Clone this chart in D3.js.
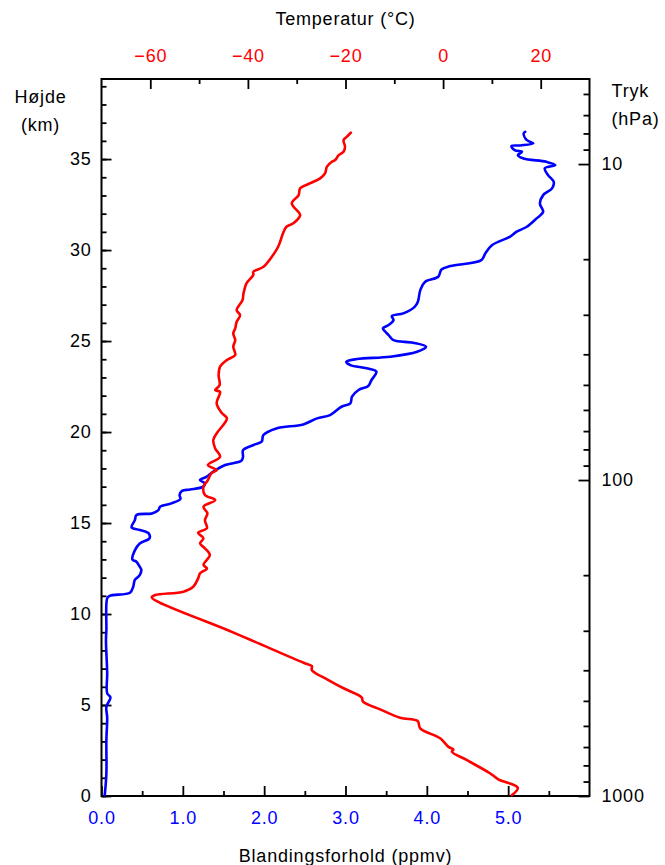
<!DOCTYPE html>
<html>
<head>
<meta charset="utf-8">
<script src="https://cdn.jsdelivr.net/npm/d3@7/dist/d3.min.js"></script>
<style>
  body { margin: 0; background: #fff; }
  text { font-family: "Liberation Sans", Arial, sans-serif; letter-spacing: 0.8px; }
</style>
</head>
<body>
<div id="chart"></div>
<script>
// temperature profile (altitude km, degC)
var tempAlt = [0.05, 0.46, 0.92, 1.25, 1.98, 2.43, 2.55, 2.7, 3.17, 3.72, 4.12, 4.3, 4.76, 5.18, 5.42, 5.92,
  6.37, 6.92, 7.14, 7.32, 8.57, 9.12, 10.92, 11.04, 11.23, 11.5, 11.96, 12.24, 12.5, 12.7, 13.24, 13.61,
  13.88, 14.16, 14.47, 14.71, 15.16, 15.53, 15.9, 16.26, 16.54, 17.0, 17.36, 17.73, 17.91, 18.19, 18.64,
  19.1, 19.56, 19.93, 20.75, 21.03, 21.58, 22.21, 22.3, 22.58, 23.13, 23.59, 23.96, 24.23, 24.69, 25.05,
  25.42, 25.7, 26.06, 26.43, 26.7, 27.25, 27.62, 28.17, 28.63, 28.8, 29.08, 29.63, 30.18, 30.92, 31.28,
  31.47, 31.92, 32.56, 33.02, 33.39, 33.66, 33.94, 34.21, 34.58, 34.85, 34.95, 35.22, 35.4, 35.68, 36.04,
  36.23, 36.45];
var tempVal = [14.1, 15.3, 11.3, 9.6, 4.8, 1.8, 2.1, 1.1, -0.6, -4.7, -5.2, -8.8, -12.9, -16.4, -16.7, -20.4,
  -23.5, -26.9, -26.9, -28.6, -39.4, -44.2, -59.7, -59.0, -53.2, -51.2, -50.2, -49.8, -48.4, -49.1, -47.8, -48.8,
  -49.8, -49.1, -50.2, -48.4, -48.8, -48.3, -49.1, -46.7, -48.8, -49.1, -48.2, -47.5, -46.4, -48.2, -45.7,
  -46.7, -47.1, -46.4, -44.3, -45.3, -46.4, -45.7, -46.7, -45.8, -46.0, -45.7, -44.3, -42.6, -43.0, -42.6,
  -43.0, -42.6, -42.3, -41.6, -42.3, -41.1, -40.9, -40.3, -38.9, -38.9, -36.8, -35.1, -33.8, -32.8, -32.1,
  -30.7, -29.3, -31.0, -29.6, -29.3, -27.3, -25.2, -24.2, -23.8, -22.8, -22.1, -21.4, -20.4, -20.1, -20.4,
  -19.7, -18.9];

// water vapour mixing ratio profile (altitude km, ppmv)
var vapAlt = [0.05, 1.25, 3.08, 4.3, 4.9, 5.42, 5.64, 6.74, 8.57, 9.12, 10.86, 11.0, 11.17, 11.5, 11.87, 12.14,
  12.42, 12.6, 12.87, 13.0, 13.5, 13.88, 14.16, 14.43, 14.62, 14.76, 15.16, 15.44, 15.53, 15.71, 15.9, 16.08,
  16.32, 16.54, 16.77, 16.84, 17.0, 17.18, 17.36, 17.54, 17.82, 18.19, 18.42, 18.64, 19.0, 19.29, 19.47,
  19.84, 20.2, 20.42, 20.75, 20.93, 21.39, 21.58, 21.94, 22.31, 22.53, 22.86, 23.31, 23.5, 23.68, 23.86,
  24.01, 24.14, 24.41, 24.69, 24.91, 25.05, 25.33, 25.51, 25.7, 25.88, 26.15, 26.37, 26.52, 26.88, 27.16,
  27.8, 28.26, 28.53, 28.93, 29.12, 29.45, 29.82, 30.27, 30.73, 31.0, 31.28, 31.74, 32.1, 32.56, 33.02,
  33.39, 33.75, 34.12, 34.49, 34.67, 34.85, 35.03, 35.22, 35.4, 35.49, 35.71, 35.75, 35.86, 36.04, 36.4, 36.5];
var vapVal = [0.04, 0.06, 0.06, 0.07, 0.06, 0.11, 0.07, 0.07, 0.055, 0.06, 0.07, 0.1, 0.35, 0.39, 0.41, 0.47,
  0.49, 0.47, 0.43, 0.38, 0.41, 0.47, 0.59, 0.58, 0.47, 0.37, 0.41, 0.43, 0.62, 0.70, 0.72, 0.86,
  0.97, 0.96, 0.99, 1.09, 1.25, 1.27, 1.21, 1.29, 1.37, 1.52, 1.72, 1.74, 1.74, 1.87, 1.97,
  1.99, 2.15, 2.48, 2.65, 2.81, 2.95, 3.06, 3.08, 3.16, 3.28, 3.32, 3.38, 3.26, 3.06, 3.01,
  3.14, 3.55, 3.88, 3.99, 3.83, 3.59, 3.53, 3.49, 3.46, 3.53, 3.59, 3.57, 3.71, 3.85, 3.89,
  3.92, 3.98, 4.14, 4.18, 4.29, 4.67, 4.72, 4.80, 5.02, 5.10, 5.23, 5.35, 5.43, 5.39, 5.43,
  5.54, 5.56, 5.49, 5.45, 5.58, 5.47, 5.19, 5.12, 5.17, 5.08, 5.04, 5.15, 5.31, 5.23, 5.19, 5.21];

// axes
var altDomain = [0, 39.4];
var tempDomain = [-70, 30];
var mixDomain = [0, 6];
var pressDomain = [1000, 5.38];
var tempLabels = [-60, -40, -20, 0, 20];
var mixLabels = [0, 1, 2, 3, 4, 5];
var altLabels = [0, 5, 10, 15, 20, 25, 30, 35];
var pressLabels = [10, 100, 1000];
var pressMinor = [6, 7, 8, 9, 20, 30, 40, 50, 60, 70, 80, 90, 200, 300, 400, 500, 600, 700, 800, 900];

var margin = { top: 79, left: 101.5, right: 75.5, bottom: 69 },
  width = 665 - margin.left - margin.right,
  height = 865 - margin.top - margin.bottom;

var svg = d3.select("#chart")
  .append("svg")
  .attr("width", 665)
  .attr("height", 865)
  .append("g")
  .attr("transform", "translate(" + margin.left + "," + margin.top + ")");

var yAlt = d3.scaleLinear().domain(altDomain).range([height, 0]);
var xTemp = d3.scaleLinear().domain(tempDomain).range([0, width]);
var xMix = d3.scaleLinear().domain(mixDomain).range([0, width]);
var yPress = d3.scaleLog().domain(pressDomain).range([height, 0]);

var fontSize = "18px";

function styleAxis(g, color) {
  g.select(".domain").remove();
  g.selectAll(".tick line").attr("stroke", "#000").attr("stroke-width", 1.8);
  g.selectAll(".tick text").attr("fill", color).style("font-size", fontSize)
    .style("font-family", "'Liberation Sans', Arial, sans-serif");
}

// left: height km
svg.append("g")
  .call(d3.axisLeft(yAlt).tickValues(d3.range(0, 40, 1)).tickSize(-5).tickFormat(""))
  .call(styleAxis, "#000");
svg.append("g")
  .call(d3.axisLeft(yAlt).tickValues(altLabels).tickSize(-10).tickPadding(10).tickFormat(d3.format("d")))
  .call(styleAxis, "#000");

// right: pressure hPa
svg.append("g")
  .attr("transform", "translate(" + width + ",0)")
  .call(d3.axisRight(yPress).tickValues(pressMinor).tickSize(-6).tickFormat(""))
  .call(styleAxis, "#000");
svg.append("g")
  .attr("transform", "translate(" + width + ",0)")
  .call(d3.axisRight(yPress).tickValues(pressLabels).tickSize(-11).tickPadding(12).tickFormat(d3.format("d")))
  .call(styleAxis, "#000");

// bottom: mixing ratio
svg.append("g")
  .attr("transform", "translate(0," + height + ")")
  .call(d3.axisBottom(xMix).tickValues(d3.range(0.5, 6, 1)).tickSize(-5).tickFormat(""))
  .call(styleAxis, "#000");
svg.append("g")
  .attr("transform", "translate(0," + height + ")")
  .call(d3.axisBottom(xMix).tickValues(mixLabels).tickSize(-10).tickPadding(15).tickFormat(d3.format(".1f")))
  .call(styleAxis, "#0000ff");

// top: temperature
svg.append("g")
  .call(d3.axisTop(xTemp).tickValues([-50, -30, -10, 10]).tickSize(-5).tickFormat(""))
  .call(styleAxis, "#000");
svg.append("g")
  .call(d3.axisTop(xTemp).tickValues(tempLabels).tickSize(-10).tickPadding(17).tickFormat(d3.format("d")))
  .call(styleAxis, "#ff0000");

// frame
svg.append("rect")
  .attr("x", 0)
  .attr("y", 0)
  .attr("width", width)
  .attr("height", height)
  .attr("fill", "none")
  .attr("stroke", "#000")
  .attr("stroke-width", 2);

// profiles
var tempLine = d3.line()
  .x(function(d, i) { return xTemp(tempVal[i]); })
  .y(function(d) { return yAlt(d); })
  .curve(d3.curveCatmullRom.alpha(0.5));

var vapLine = d3.line()
  .x(function(d, i) { return xMix(vapVal[i]); })
  .y(function(d) { return yAlt(d); })
  .curve(d3.curveCatmullRom.alpha(0.5));

svg.append("path")
  .datum(vapAlt)
  .attr("d", vapLine)
  .attr("fill", "none")
  .attr("stroke", "#0000ff")
  .attr("stroke-width", 2.6)
  .attr("stroke-linejoin", "round")
  .attr("stroke-linecap", "round");

svg.append("path")
  .datum(tempAlt)
  .attr("d", tempLine)
  .attr("fill", "none")
  .attr("stroke", "#ff0000")
  .attr("stroke-width", 2.6)
  .attr("stroke-linejoin", "round")
  .attr("stroke-linecap", "round");

// axis titles
var titles = svg.append("g")
  .style("font-size", fontSize)
  .attr("fill", "#000");
titles.append("text")
  .attr("x", xMix(3))
  .attr("y", -54)
  .attr("text-anchor", "middle")
  .text("Temperatur (°C)");
titles.append("text")
  .attr("x", xMix(3))
  .attr("y", height + 66)
  .attr("text-anchor", "middle")
  .text("Blandingsforhold (ppmv)");
titles.append("text")
  .attr("x", -61)
  .attr("y", 24)
  .attr("text-anchor", "middle")
  .text("Højde");
titles.append("text")
  .attr("x", -61)
  .attr("y", 52)
  .attr("text-anchor", "middle")
  .text("(km)");
titles.append("text")
  .attr("x", width + 22)
  .attr("y", 18)
  .text("Tryk");
titles.append("text")
  .attr("x", width + 22)
  .attr("y", 46)
  .text("(hPa)");
</script>
</body>
</html>
